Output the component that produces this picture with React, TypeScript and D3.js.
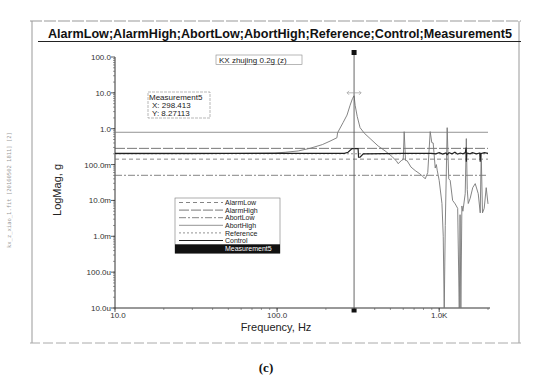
import React from "react";
import * as d3 from "d3";

const W = 550;
const H = 384;

const yTickValues = [100, 10, 1, 0.1, 0.01, 0.001, 1e-4, 1e-5];
const yTickLabels = ["100.0", "10.0", "1.0", "100.0m", "10.0m", "1.0m", "100.0u", "10.0u"];
const xTickValues = [10, 100, 1000];
const xTickLabels = ["10.0", "100.0", "1.0K"];

const limitNames = ["AbortHigh", "AlarmHigh", "Reference", "AlarmLow", "AbortLow"];
const limitValues = [0.796, 0.283, 0.2, 0.1416, 0.0502];

const legendNames = ["AlarmLow", "AlarmHigh", "AbortLow", "AbortHigh", "Reference", "Control", "Measurement5"];

const measFreq = [10, 30, 60, 97, 112, 135, 160, 190, 212, 234, 236, 255, 270, 282, 292, 298.4, 303, 312, 325, 345, 375, 420, 464, 510, 545, 558, 583, 600, 608, 620, 634, 670, 711, 760, 800, 820, 850, 880, 900, 918, 945, 960, 972, 1000, 1040, 1059, 1074, 1090, 1120, 1145, 1169, 1210, 1255, 1300, 1330, 1345, 1360, 1380, 1400, 1447, 1470, 1490, 1511, 1553, 1610, 1668, 1741, 1791, 1816, 1850, 1895, 1950, 2000];
const measValues = [0.2, 0.2, 0.205, 0.21, 0.22, 0.24, 0.285, 0.36, 0.45, 0.56, 0.77, 1.47, 2.4, 4.5, 7.0, 8.27, 4.5, 2.2, 1.07, 0.75, 0.53, 0.33, 0.24, 0.17, 0.125, 0.106, 0.128, 0.14, 0.825, 0.13, 0.128, 0.085, 0.068, 0.055, 0.045, 0.04, 0.06, 0.83, 0.41, 0.4, 0.08, 0.1, 0.07, 0.036, 0.0082, 0.001, 0.000008, 0.002, 1.07, 0.04, 0.036, 0.01, 0.008, 0.006, 0.000008, 0.004, 0.000008, 0.007, 0.005, 0.0154, 0.53, 0.02, 0.0082, 0.0115, 0.0227, 0.0294, 0.0154, 0.0045, 0.2, 0.0045, 0.006, 0.0227, 0.008];

const ctrlFreq = [10, 100, 200, 260, 274, 290, 316, 318, 325, 340, 600, 900, 950, 1000, 1050, 1100, 1120, 1150, 1200, 1250, 1300, 1350, 1400, 1450, 1465, 1470, 1480, 1550, 1600, 1700, 1780, 1790, 1800, 1900, 2000];
const ctrlValues = [0.205, 0.205, 0.205, 0.205, 0.22, 0.28, 0.28, 0.16, 0.16, 0.2, 0.205, 0.205, 0.2, 0.215, 0.195, 0.21, 0.19, 0.215, 0.2, 0.22, 0.195, 0.21, 0.2, 0.215, 0.3, 0.12, 0.21, 0.2, 0.215, 0.2, 0.21, 0.12, 0.2, 0.215, 0.205];

const cursorFreq = 298.413;

const styleOf: Record<string, { dash: string; color: string; width: number }> = {
  AlarmLow: { dash: "4,3", color: "#666", width: 0.8 },
  AlarmHigh: { dash: "10,2", color: "#555", width: 0.8 },
  AbortLow: { dash: "7,2,2,2", color: "#666", width: 0.8 },
  AbortHigh: { dash: "", color: "#777", width: 0.8 },
  Reference: { dash: "2,2", color: "#777", width: 0.8 },
  Control: { dash: "", color: "#222", width: 1.2 },
};

export default function App() {
  const left = 115, right = 488, top = 57, bottom = 308;
  const x = d3.scaleLog().domain([10, 2000]).range([left, right]);
  const y = d3.scaleLog().domain([1e-5, 100]).range([bottom, top]);

  const line = d3
    .line<[number, number]>()
    .x((d) => x(d[0]))
    .y((d) => y(d[1]));

  const meas = line(measFreq.map((f, i) => [f, measValues[i]]));
  const ctrl = line(ctrlFreq.map((f, i) => [f, ctrlValues[i]]));

  const xMinor: number[] = [];
  for (let dec = 10; dec < 2000; dec *= 10) {
    for (let k = 1; k < 10; k++) {
      const v = dec * k;
      if (v <= 2000) xMinor.push(v);
    }
  }
  const yMinor: number[] = [];
  for (let dec = 1e-5; dec < 100; dec *= 10) {
    for (let k = 1; k < 10; k++) yMinor.push(dec * k);
  }

  const cx = x(cursorFreq);
  const font = "Arial, 'Liberation Sans', sans-serif";

  const legX = 175, legY = 198, legW = 105, rowH = 7.6;

  return (
    <svg width={W} height={H} style={{ position: "absolute", left: 0, top: 0, background: "#fff" }}>
      <defs>
        <clipPath id="plotClip">
          <rect x={left} y={top - 5} width={right - left + 2} height={bottom - top + 5} />
        </clipPath>
      </defs>
      <rect width={W} height={H} fill="#fff" />
      {/* outer frame */}
      <line x1={30} y1={21} x2={521} y2={21} stroke="#999" strokeWidth={1} strokeDasharray="12,2" />
      <line x1={32} y1={21} x2={32} y2={343} stroke="#999" strokeWidth={1} />
      <line x1={519} y1={21} x2={519} y2={343} stroke="#999" strokeWidth={1} />
      <line x1={30} y1={343} x2={521} y2={343} stroke="#aaa" strokeWidth={1} strokeDasharray="10,3" />

      {/* side text */}
      <text
        transform="translate(11,248) rotate(-90)"
        fontSize={5.5}
        fill="#999"
        fontFamily="'DejaVu Sans Mono', monospace"
      >
        kx_z_xiao_1.fit [20160502 1811] [2]
      </text>

      {/* title */}
      <text x={48} y={38} fontSize={12} fontWeight="bold" fontFamily={font} fill="#111" textLength={464} lengthAdjust="spacingAndGlyphs">
        AlarmLow;AlarmHigh;AbortLow;AbortHigh;Reference;Control;Measurement5
      </text>
      <line x1={38} y1={41.5} x2={521} y2={41.5} stroke="#222" strokeWidth={1} />

      {/* axes */}
      <line x1={left} y1={top} x2={left} y2={bottom} stroke="#333" strokeWidth={1} />
      <line x1={left} y1={bottom} x2={right + 2} y2={bottom} stroke="#333" strokeWidth={1} />
      {yMinor.map((v, i) => (
        <line key={"ym" + i} x1={left - 2} x2={left} y1={y(v)} y2={y(v)} stroke="#555" strokeWidth={0.6} />
      ))}
      {yTickValues.map((v, i) => (
        <g key={"yt" + i}>
          <line x1={left - 4} x2={left} y1={y(v)} y2={y(v)} stroke="#333" strokeWidth={0.8} />
          <text x={left - 4} y={y(v) + 3} fontSize={8} textAnchor="end" fontFamily={font} fill="#333">
            {yTickLabels[i]}
          </text>
        </g>
      ))}
      {xMinor.map((v, i) => (
        <line key={"xm" + i} x1={x(v)} x2={x(v)} y1={bottom} y2={bottom + 2} stroke="#555" strokeWidth={0.6} />
      ))}
      {xTickValues.map((v, i) => (
        <g key={"xt" + i}>
          <line x1={x(v)} x2={x(v)} y1={bottom} y2={bottom + 4} stroke="#333" strokeWidth={0.8} />
          <text x={x(v) + (i === 0 ? 3 : 0)} y={bottom + 10} fontSize={8} textAnchor="middle" fontFamily={font} fill="#333">
            {xTickLabels[i]}
          </text>
        </g>
      ))}
      <text x={276} y={330.5} fontSize={11} textAnchor="middle" fontFamily={font} fill="#222">
        Frequency, Hz
      </text>
      <text transform="translate(61,190) rotate(-90)" fontSize={11} textAnchor="middle" fontFamily={font} fill="#222">
        LogMag, g
      </text>

      {/* limit lines */}
      {limitNames.map((n, i) => (
        <line
          key={n}
          x1={left}
          x2={right}
          y1={y(limitValues[i])}
          y2={y(limitValues[i])}
          stroke={styleOf[n].color}
          strokeWidth={styleOf[n].width}
          strokeDasharray={styleOf[n].dash}
        />
      ))}

      <g clipPath="url(#plotClip)">
        <path d={meas || ""} fill="none" stroke="#777" strokeWidth={0.9} />
        <path d={ctrl || ""} fill="none" stroke="#222" strokeWidth={1.2} />
      </g>

      {/* cursor */}
      <line x1={cx} x2={cx} y1={52} y2={311} stroke="#555" strokeWidth={0.9} />
      <rect x={cx - 2.5} y={50} width={5} height={5} fill="#111" />
      <rect x={cx - 2.5} y={308.5} width={5} height={4} fill="#111" />
      <g stroke="#999" strokeWidth={0.7} fill="none">
        <line x1={cx - 7} x2={cx + 7} y1={y(8.27113) - 3} y2={y(8.27113) - 3} />
        <path d={`M${cx - 5},${y(8.27113) - 5} L${cx - 7},${y(8.27113) - 3} L${cx - 5},${y(8.27113) - 1}`} />
        <path d={`M${cx + 5},${y(8.27113) - 5} L${cx + 7},${y(8.27113) - 3} L${cx + 5},${y(8.27113) - 1}`} />
      </g>

      {/* title box */}
      <rect x={216} y={55} width={86} height={9.5} fill="#fff" stroke="#888" strokeWidth={0.6} />
      <text x={219} y={62.5} fontSize={8} fontFamily={font} fill="#222">
        KX zhujing  0.2g (z)
      </text>

      {/* measurement readout box */}
      <rect x={148} y={92} width={62} height={26} fill="#fff" stroke="#888" strokeWidth={0.6} strokeDasharray="3,1" />
      <text x={149} y={99.5} fontSize={8} fontFamily={font} fill="#222">Measurement5</text>
      <text x={152} y={107.5} fontSize={8} fontFamily={font} fill="#222">X: 298.413</text>
      <text x={152} y={115.5} fontSize={8} fontFamily={font} fill="#222">Y: 8.27113</text>

      {/* legend */}
      <rect x={legX} y={legY} width={legW} height={rowH * 7 + 2} fill="#fff" stroke="#777" strokeWidth={0.6} />
      {legendNames.map((n, i) => {
        const ry = legY + 4.5 + i * rowH;
        if (n === "Measurement5") {
          return (
            <g key={n}>
              <rect x={legX} y={ry - 3.8} width={legW} height={rowH + 1.5} fill="#111" />
              <text x={legX + 50} y={ry + 2.8} fontSize={7} fontFamily={font} fill="#fff">
                {n}
              </text>
            </g>
          );
        }
        const s = styleOf[n];
        return (
          <g key={n}>
            <line x1={legX + 4} x2={legX + 48} y1={ry} y2={ry} stroke={s.color} strokeWidth={s.width} strokeDasharray={s.dash} />
            <text x={legX + 50} y={ry + 2.6} fontSize={7} fontFamily={font} fill="#222">
              {n}
            </text>
          </g>
        );
      })}

      <text x={266} y={372} fontSize={13} fontWeight="bold" textAnchor="middle" fontFamily="'Liberation Serif', 'DejaVu Serif', serif" fill="#111">
        (c)
      </text>
    </svg>
  );
}
